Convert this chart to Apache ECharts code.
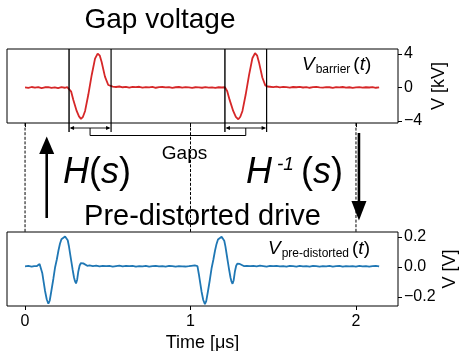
<!DOCTYPE html>
<html><head><meta charset="utf-8">
<script src="https://cdn.jsdelivr.net/npm/echarts@6/dist/echarts.min.js"></script>
<style>html,body{margin:0;padding:0;background:#fff}#c{width:462px;height:351px}</style>
</head><body><div id="c"></div>
<script>
// ---------- data ----------
const xTicks = [0, 1, 2];
const topTicks = [-4, 0, 4];
const botTicks = [-0.2, 0, 0.2];

// Gap voltage V_barrier(t) [kV] vs time [us]
const redT = [
 0.00,0.02,0.04,0.06,0.08,0.10,0.12,0.14,0.16,0.18,
 0.20,0.22,0.24,0.255,
 0.266,0.279,0.292,0.312,0.326,0.338,0.350,0.363,0.382,0.403,
 0.423,0.439,0.452,0.463,0.483,0.503,0.515,
 0.53,0.55,0.57,0.59,0.61,0.63,0.65,0.67,0.69,0.71,
 0.73,0.75,0.77,0.79,0.81,0.83,0.85,0.87,0.89,0.91,
 0.93,0.95,0.97,0.99,1.01,1.03,1.05,1.07,1.09,1.11,
 1.13,1.15,1.17,1.19,
 1.208,1.222,1.236,1.258,1.274,1.289,1.301,1.314,1.333,1.354,
 1.374,1.390,1.403,1.414,1.434,1.452,1.465,
 1.48,1.50,1.52,1.54,1.56,1.58,1.60,1.62,1.64,1.66,
 1.68,1.70,1.72,1.74,1.76,1.78,1.80,1.82,1.84,1.86,
 1.88,1.90,1.92,1.94,1.96,1.98,2.00,2.02,2.04,2.06,
 2.08,2.10,2.12,2.14
];
const redV = [
 0.02,-0.05,0.06,-0.02,0.04,-0.07,0.03,0.05,-0.04,0.02,
 -0.06,0.04,-0.03,0.05,
 0.0,-0.5,-1.5,-2.8,-3.45,-3.75,-3.5,-2.8,-0.9,1.5,
 3.45,4.05,3.8,3.05,1.3,0.3,0.12,
 0.10,0.06,0.12,0.03,0.08,-0.02,0.07,0.04,0.09,-0.01,
 0.05,0.02,0.07,-0.03,0.04,0.06,0.01,0.05,-0.04,0.03,
 0.06,-0.02,0.04,0.01,-0.05,0.03,0.02,-0.03,0.04,-0.01,
 0.02,-0.04,0.03,0.00,
 0.03,-0.45,-1.45,-2.8,-3.5,-3.8,-3.5,-2.8,-0.9,1.5,
 3.5,4.1,3.8,3.0,1.2,0.25,0.12,
 0.09,0.05,0.11,0.02,0.07,0.04,-0.01,0.06,0.03,0.08,
 0.00,0.05,-0.03,0.04,0.07,0.01,-0.02,0.05,0.03,-0.04,
 0.04,0.02,0.06,-0.01,0.03,-0.05,0.02,0.04,-0.02,0.03,
 0.00,0.05,-0.03,0.02
];

// Pre-distorted drive V_pre-distorted(t) [V] vs time [us]
const blueT = [
 0.00,0.02,0.04,0.055,
 0.070,0.080,0.088,0.096,0.104,0.111,0.121,0.131,0.141,0.149,
 0.159,0.171,0.182,0.192,0.202,0.211,0.220,0.228,0.242,0.251,
 0.258,0.265,0.272,0.280,0.288,0.296,0.302,0.308,0.315,0.322,
 0.330,0.337,0.345,0.352,0.364,0.376,
 0.39,0.41,0.43,0.45,0.47,0.49,0.51,0.53,0.55,0.57,
 0.59,0.61,0.63,0.65,0.67,0.69,0.71,0.73,0.75,0.77,
 0.79,0.81,0.83,0.85,0.87,0.89,0.91,0.93,0.95,0.97,
 0.99,1.005,
 1.016,1.026,1.034,1.042,1.050,1.057,1.067,1.077,1.087,1.095,
 1.105,1.117,1.128,1.138,1.148,1.157,1.166,1.174,1.188,1.197,
 1.204,1.211,1.218,1.226,1.234,1.242,1.248,1.254,1.261,1.268,
 1.276,1.283,1.291,1.298,1.310,1.322,
 1.34,1.36,1.38,1.40,1.42,1.44,1.46,1.48,1.50,1.52,
 1.54,1.56,1.58,1.60,1.62,1.64,1.66,1.68,1.70,1.72,
 1.74,1.76,1.78,1.80,1.82,1.84,1.86,1.88,1.90,1.92,
 1.94,1.96,1.98,2.00,2.02,2.04,2.06,2.08,2.10,2.12,
 2.14
];
const blueV = [
 0.004,0.007,0.003,0.006,
 0.005,0.012,0.02,0.008,-0.04,-0.09,-0.16,-0.215,-0.245,-0.225,
 -0.16,-0.08,0.0,0.05,0.11,0.155,0.185,0.197,0.203,0.195,
 0.178,0.14,0.09,0.035,-0.02,-0.07,-0.095,-0.11,-0.085,-0.03,
 0.01,0.025,0.028,0.024,0.012,0.008,
 0.010,0.006,0.009,0.004,0.008,0.005,0.007,0.003,0.006,0.009,
 0.004,0.007,0.005,0.008,0.003,0.006,0.004,0.007,0.002,0.005,
 0.008,0.004,0.006,0.003,0.007,0.005,0.002,0.006,0.004,0.003,
 0.005,0.008,
 0.004,0.01,0.018,0.006,-0.045,-0.095,-0.165,-0.22,-0.248,-0.228,
 -0.165,-0.085,-0.005,0.048,0.108,0.152,0.183,0.196,0.201,0.193,
 0.175,0.137,0.088,0.032,-0.022,-0.072,-0.098,-0.112,-0.088,-0.032,
 0.008,0.022,0.026,0.02,0.01,0.006,
 0.008,0.005,0.007,0.004,0.009,0.006,0.003,0.007,0.005,0.008,
 0.004,0.006,0.002,0.007,0.005,0.003,0.008,0.004,0.006,0.003,
 0.007,0.005,0.002,0.006,0.004,0.008,0.003,0.005,0.007,0.002,
 0.006,0.004,0.005,0.003,0.007,0.004,0.006,0.002,0.005,0.008,
 0.004
];

// Gap windows (time, us)
const gapStart = [0.266, 1.208];
const gapEnd = [0.520, 1.460];

// ---------- layout ----------
const FONT = "'Liberation Sans', Arial, sans-serif";
const G0 = {left: 7, top: 49, width: 391, height: 74};
const G1 = {left: 7, top: 232, width: 391, height: 74};
const XMIN = -0.109, XMAX = 2.254;

function fmt(v, d) {
  const s = Math.abs(v).toFixed(d);
  return (v < -1e-9 ? '\u2212' : '') + s;
}

const chart = echarts.init(document.getElementById('c'), null, {renderer: 'canvas'});

function xAxisCfg(idx, withLabels) {
  return {
    gridIndex: idx, type: 'value', min: XMIN, max: XMAX, position: 'bottom',
    axisLine: {show: false, onZero: false}, splitLine: {show: false}, minorTick: {show: false},
    axisTick: {show: true, customValues: xTicks, length: 4, inside: false, lineStyle: {color: '#000', width: 1}},
    axisLabel: withLabels ? {show: true, customValues: xTicks, fontSize: 16, color: '#000', margin: 8, fontFamily: FONT, formatter: v => fmt(v, 0)} : {show: false},
    name: withLabels ? 'Time [\u03bcs]' : '',
    nameLocation: 'middle', nameGap: 28, nameMoveOverlap: false,
    nameTextStyle: {fontSize: 18, color: '#000', fontFamily: FONT}
  };
}
function yAxisCfg(idx, lo, hi, ticks, dec, name, gap) {
  return {
    gridIndex: idx, type: 'value', position: 'right', min: lo, max: hi,
    axisLine: {show: false, onZero: false}, splitLine: {show: false}, minorTick: {show: false},
    axisTick: {show: true, customValues: ticks, length: 4, inside: false, lineStyle: {color: '#000', width: 1}},
    axisLabel: {show: true, customValues: ticks, fontSize: 16, color: '#000', margin: 6, fontFamily: FONT, formatter: v => fmt(v, dec)},
    name: name, nameLocation: 'middle', nameRotate: 90, nameGap: gap, nameMoveOverlap: false,
    nameTextStyle: {fontSize: 18, color: '#000', fontFamily: FONT}
  };
}

chart.setOption({
  animation: false,
  backgroundColor: '#fff',
  grid: [
    Object.assign({show: true, borderColor: '#000', borderWidth: 1, backgroundColor: 'transparent', containLabel: false, outerBoundsMode: 'none'}, G0),
    Object.assign({show: true, borderColor: '#000', borderWidth: 1, backgroundColor: 'transparent', containLabel: false, outerBoundsMode: 'none'}, G1)
  ],
  xAxis: [xAxisCfg(0, false), xAxisCfg(1, true)],
  yAxis: [
    yAxisCfg(0, -4.24, 4.6, topTicks, 0, 'V [kV]', 32),
    yAxisCfg(1, -0.26, 0.233, botTicks, 1, 'V [V]', 43)
  ],
  series: [
    {type: 'line', xAxisIndex: 0, yAxisIndex: 0, data: redT.map((t, i) => [t, redV[i]]),
     showSymbol: false, symbol: 'none', lineStyle: {color: '#d62728', width: 1.8}, itemStyle: {color: '#d62728'}},
    {type: 'line', xAxisIndex: 1, yAxisIndex: 1, data: blueT.map((t, i) => [t, blueV[i]]),
     showSymbol: false, symbol: 'none', lineStyle: {color: '#1f77b4', width: 1.8}, itemStyle: {color: '#1f77b4'}}
  ]
});

// ---------- annotations ----------
const px = t => chart.convertToPixel({xAxisIndex: 0}, t);
const g = [];
const K = '#000';
const bot0 = G0.top + G0.height;   // bottom of top panel
const top1 = G1.top;               // top of bottom panel
const arrowY = 128, bracketY = 135.5, lineEnd = 132;

function line(x1, y1, x2, y2, w, dash) {
  g.push({type: 'line', shape: {x1, y1, x2, y2}, style: {stroke: K, lineWidth: w, lineDash: dash || null}, z: 10});
}
function poly(points) {
  g.push({type: 'polygon', shape: {points}, style: {fill: K}, z: 10});
}
function text(t, x, y, size, align, extra) {
  g.push({type: 'text', z: 10, style: Object.assign({text: t, x, y, fontSize: size, fontFamily: FONT, fill: K, align: align || 'center', verticalAlign: 'middle'}, extra || {})});
}

// gap windows
const mids = [];
for (let i = 0; i < gapStart.length; i++) {
  const a = px(gapStart[i]), b = px(gapEnd[i]);
  line(a, G0.top, a, lineEnd, 1.4);
  line(b, G0.top, b, lineEnd, 1.2);
  line(a + 2, arrowY, b - 2, arrowY, 0.9);
  poly([[a + 0.5, arrowY], [a + 5, arrowY - 2], [a + 5, arrowY + 2]]);
  poly([[b - 0.5, arrowY], [b - 5, arrowY - 2], [b - 5, arrowY + 2]]);
  mids.push((a + b) / 2);
}
g.push({type: 'polyline', z: 10, shape: {points: [[mids[0], arrowY], [mids[0], bracketY], [mids[1], bracketY], [mids[1], arrowY]]}, style: {stroke: K, lineWidth: 1, fill: null}});

// dashed connectors at major ticks
xTicks.forEach(t => { const x = px(t); line(x, bot0, x, top1, 1, [3, 1.6]); });

// arrows
const upX = px(0.131), downX = px(2.018);
line(upX, 218, upX, 150, 2.6);
poly([[upX, 136.5], [upX - 7.5, 154], [upX + 7.5, 154]]);
line(downX, 133, downX, 205, 2.6);
poly([[downX, 220.5], [downX - 7.5, 201], [downX + 7.5, 201]]);

// texts
text('Gap voltage', 160, 20.5, 28);
text('Pre-distorted drive', 202.5, 217, 29);
text('Gaps', 184.5, 154, 19);

const richBig = {
  i: {fontSize: 36, fontStyle: 'italic', fontFamily: FONT, lineHeight: 40, fill: K},
  n: {fontSize: 36, fontFamily: FONT, lineHeight: 40, fill: K},
  sup: {fontSize: 19, fontStyle: 'italic', fontFamily: FONT, lineHeight: 19, verticalAlign: 'top', padding: [2, 7, 0, 5], fill: K}
};
g.push({type: 'text', z: 10, style: {text: '{i|H}{n|(}{i|s}{n|)}', x: 63, y: 173, align: 'left', verticalAlign: 'middle', rich: richBig}});
g.push({type: 'text', z: 10, style: {text: '{i|H}{sup|-1}{n|(}{i|s}{n|)}', x: 246, y: 173, align: 'left', verticalAlign: 'middle', rich: richBig}});

const richV = {
  v: {fontSize: 19, fontStyle: 'italic', fontFamily: FONT, lineHeight: 22, fill: K},
  n: {fontSize: 19, fontFamily: FONT, lineHeight: 22, fill: K},
  sub: {fontSize: 12, fontFamily: FONT, lineHeight: 14, verticalAlign: 'bottom', padding: [0, 3, 0, 1], fill: K}
};
g.push({type: 'text', z: 10, style: {text: '{v|V}{sub|barrier}{n|(}{v|t}{n|)}', x: 302, y: 64.5, align: 'left', verticalAlign: 'middle', rich: richV}});
g.push({type: 'text', z: 10, style: {text: '{v|V}{sub|pre-distorted}{n|(}{v|t}{n|)}', x: 268, y: 249, align: 'left', verticalAlign: 'middle', rich: richV}});

chart.setOption({graphic: g});
</script></body></html>
